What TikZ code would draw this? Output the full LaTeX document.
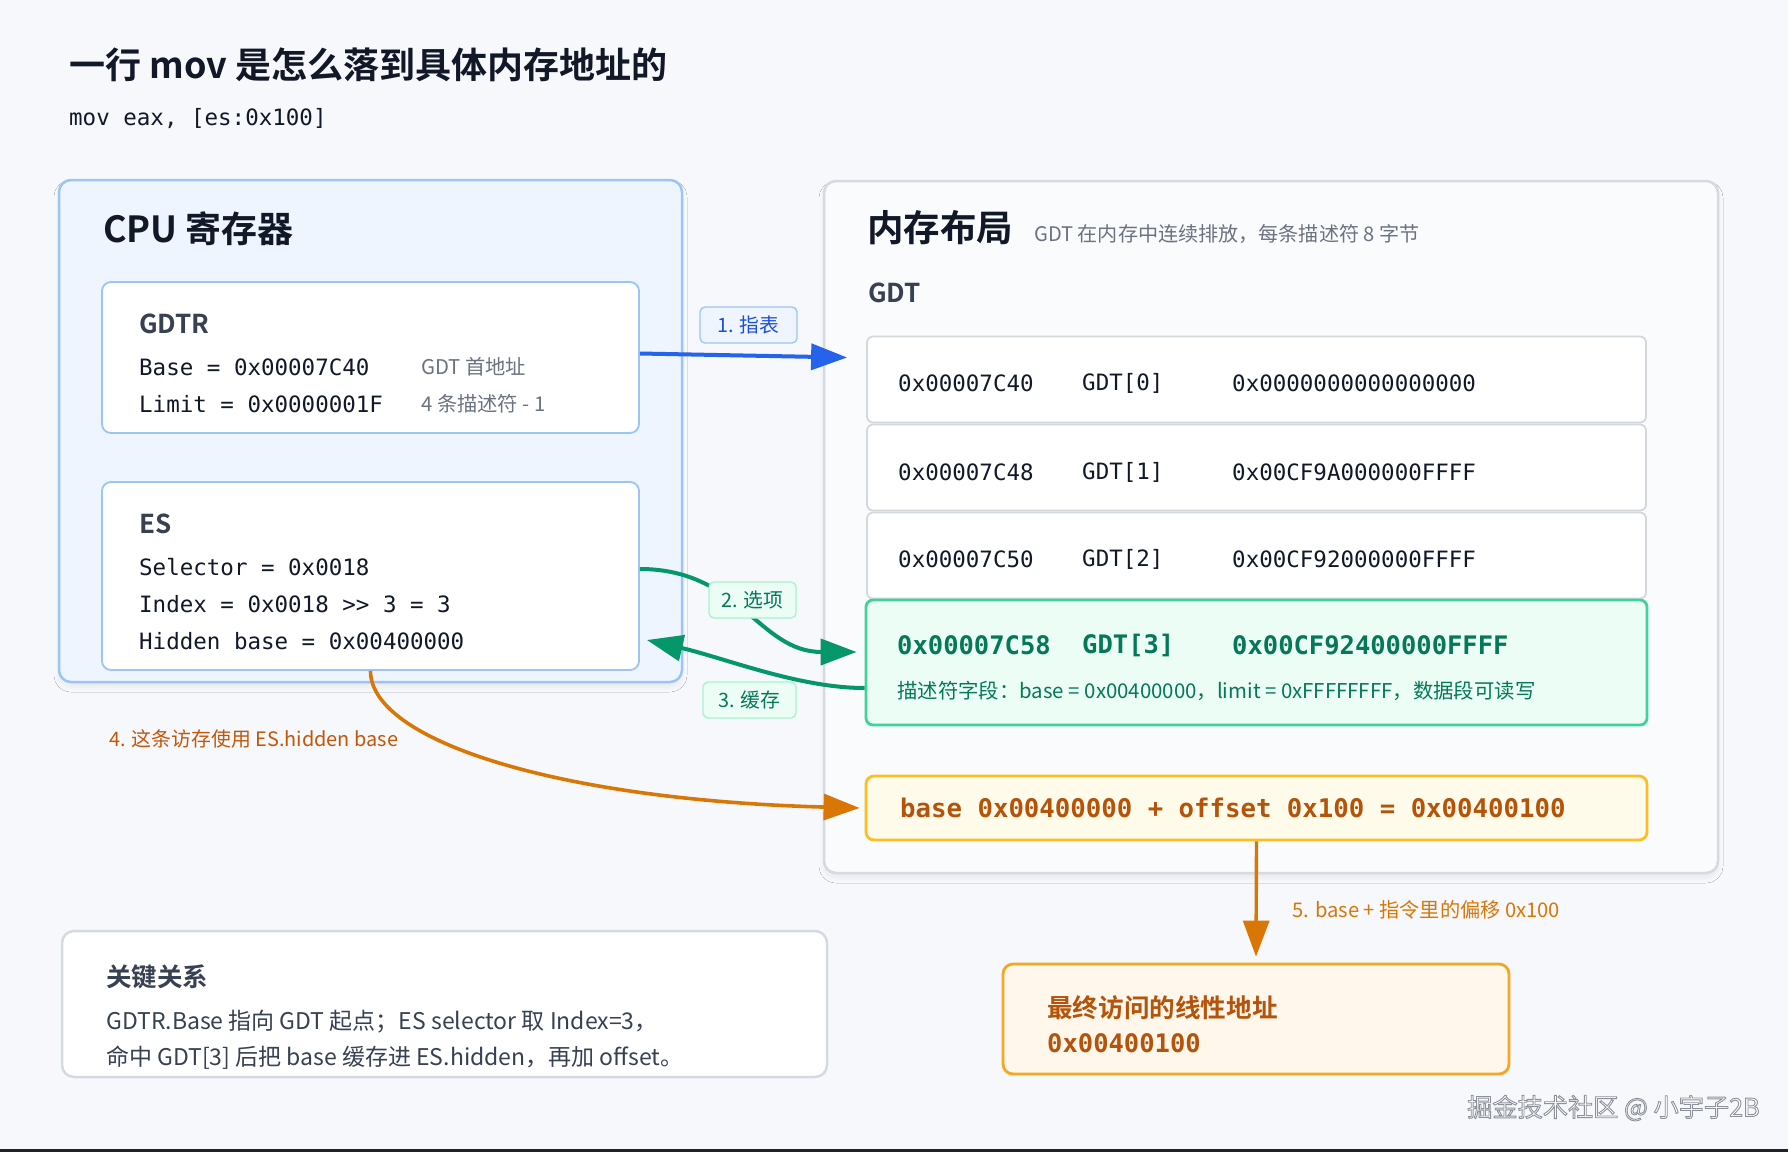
\documentclass[tikz,border=0pt]{standalone}
\usepackage{fontspec}
\setmainfont{Noto Sans CJK SC}[BoldFont={Noto Sans CJK SC Bold}]
\newfontfamily\monof{DejaVu Sans Mono}
\usetikzlibrary{arrows.meta,shadows.blur}
\newcommand\fsz[1]{\fontsize{#1pt}{#1pt}\selectfont}
\definecolor{bgc}{HTML}{F6F8FB}
\definecolor{ink}{HTML}{111827}
\definecolor{ink2}{HTML}{374151}
\definecolor{muted}{HTML}{6B7280}
\definecolor{cpufill}{HTML}{EEF5FF}
\definecolor{cpuline}{HTML}{9CC5F7}
\definecolor{memfill}{HTML}{FAFBFC}
\definecolor{memline}{HTML}{D5D9E0}
\definecolor{rowline}{HTML}{D3D7DE}
\definecolor{blueA}{HTML}{2563EB}
\definecolor{blueT}{HTML}{1D4ED8}
\definecolor{greenA}{HTML}{059669}
\definecolor{greenT}{HTML}{047857}
\definecolor{greenF}{HTML}{ECFDF5}
\definecolor{greenL}{HTML}{3FD39C}
\definecolor{greenLL}{HTML}{A7F3D0}
\definecolor{orA}{HTML}{D97706}
\definecolor{orT}{HTML}{B45309}
\definecolor{orF}{HTML}{FFFBEB}
\definecolor{orL}{HTML}{FBBF24}
\definecolor{finF}{HTML}{FFF7EB}
\definecolor{finL}{HTML}{F5A623}
\definecolor{lab4}{HTML}{C2570C}
\definecolor{wm}{HTML}{FFFFFF}
\definecolor{darkbar}{HTML}{1F2329}
\begin{document}
\begin{tikzpicture}[x=1pt,y=-1pt,
  txt/.style={inner sep=0pt, anchor=west},
  softshadow/.style={blur shadow={shadow xshift=0pt, shadow yshift=-5pt, shadow blur radius=5pt, shadow blur steps=8, shadow opacity=6}},
  cpubox/.style={draw=cpuline, fill=cpufill, line width=2.5pt, rounded corners=12pt, inner sep=0pt, softshadow},
  regbox/.style={draw=cpuline, fill=white, line width=1.8pt, rounded corners=9pt, inner sep=0pt},
  membox/.style={draw=memline, fill=memfill, line width=2.5pt, rounded corners=12pt, inner sep=0pt, softshadow},
  rowbox/.style={draw=rowline, fill=white, line width=1.8pt, rounded corners=6pt, inner sep=0pt, minimum width=779pt, minimum height=86pt},
  greenbox/.style={draw=greenL, fill=greenF, line width=2.8pt, rounded corners=7pt, inner sep=0pt},
  orbox/.style={draw=orL, fill=orF, line width=2.8pt, rounded corners=8pt, inner sep=0pt},
  finbox/.style={draw=finL, fill=finF, line width=2.8pt, rounded corners=10pt, inner sep=0pt},
  keybox/.style={draw=memline, fill=white, line width=2.5pt, rounded corners=12pt, inner sep=0pt},
  tagbox/.style={rounded corners=5pt, line width=1.3pt, inner sep=0pt, minimum height=36pt, font=\fsz{19.8}},
  mono/.style={txt, font=\monof\fsz{22.5}, text=ink},
  note/.style={txt, font=\fsz{20.3}, text=muted},
  arr/.style={line width=4pt, -{Triangle[length=36pt,width=26pt]}},
]
\useasboundingbox (0,0) rectangle (1788,1152);
\fill[bgc] (0,0) rectangle (1788,1152);
\fill[darkbar] (0,1149) rectangle (1788,1152);

% title
\node[txt, font=\bfseries\fsz{36}, text=ink] (title) at (69,65) {一行 mov 是怎么落到具体内存地址的};
\node[txt, font=\monof\fsz{22.5}, text=ink] (code) at (69,119) {mov eax, [es:0x100]};

% CPU side
\node[cpubox, minimum width=623pt, minimum height=502pt] (cpu) at (370.5,431) {};
\node[txt, font=\bfseries\fsz{36}, text=ink] (cputitle) at (103,229) {CPU 寄存器};
\node[regbox, minimum width=537pt, minimum height=151pt] (gdtr) at (370.5,357.5) {};
\node[txt, font=\bfseries\fsz{26}, text=ink2] (gdtrlab) at (139,324) {GDTR};
\node[mono] (gbase) at (139,367) {Base = 0x00007C40};
\node[mono] (glimit) at (139,404) {Limit = 0x0000001F};
\node[note] (gnote1) at (421,367) {GDT 首地址};
\node[note] (gnote2) at (421,404) {4 条描述符 - 1};

\node[regbox, minimum width=537pt, minimum height=188pt] (es) at (370.5,576) {};
\node[txt, font=\bfseries\fsz{26}, text=ink2] (eslab) at (139,524) {ES};
\node[mono] (esel) at (139,567) {Selector = 0x0018};
\node[mono] (eidx) at (139,604) {Index = 0x0018 >> 3 = 3};
\node[mono] (ehid) at (139,641) {Hidden base = 0x00400000};

% memory side
\node[membox, minimum width=894pt, minimum height=692pt] (mem) at (1271,527) {};
\node[inner sep=0pt, anchor=base west, font=\bfseries\fsz{36.5}, text=ink] (memtitle) at (867,241) {内存布局};
\node[inner sep=0pt, anchor=base west, font=\fsz{20.1}, text=muted] (memsub) at (1034,241) {GDT 在内存中连续排放，每条描述符 8 字节};
\node[txt, font=\bfseries\fsz{26}, text=ink2] (gdtlab) at (868,293) {GDT};

\node[rowbox] (r0) at (1256.5,379.5) {};
\node[rowbox] (r1) at (1256.5,467.5) {};
\node[rowbox] (r2) at (1256.5,555.5) {};
\node[mono] (r0a) at (898,383) {0x00007C40};
\node[mono] (r0b) at (1082,383) {GDT[0]};
\node[mono] (r0c) at (1232,383) {0x0000000000000000};
\node[mono] (r1a) at (898,472) {0x00007C48};
\node[mono] (r1b) at (1082,472) {GDT[1]};
\node[mono] (r1c) at (1232,472) {0x00CF9A000000FFFF};
\node[mono] (r2a) at (898,559) {0x00007C50};
\node[mono] (r2b) at (1082,559) {GDT[2]};
\node[mono] (r2c) at (1232,559) {0x00CF92000000FFFF};

\node[greenbox, minimum width=781pt, minimum height=125pt] (g3) at (1256.5,662.5) {};
\node[txt, font=\monof\bfseries\fsz{25.5}, text=greenT] (g3a) at (897,645) {0x00007C58};
\node[txt, font=\monof\bfseries\fsz{25.5}, text=greenT] (g3b) at (1082,645) {GDT[3]};
\node[txt, font=\monof\bfseries\fsz{25.5}, text=greenT] (g3c) at (1232,645) {0x00CF92400000FFFF};
\node[txt, font=\fsz{20.4}, text=greenT] (g3d) at (897,691) {描述符字段：base = 0x00400000，limit = 0xFFFFFFFF，数据段可读写};

\node[orbox, minimum width=781pt, minimum height=64pt] (obox) at (1256.5,808) {};
\node[txt, font=\monof\bfseries\fsz{25.7}, text=orT] (otext) at (900,808) {base 0x00400000 + offset 0x100 = 0x00400100};

% final & key boxes
\node[finbox, minimum width=506pt, minimum height=110pt] (fin) at (1256,1019) {};
\node[txt, font=\bfseries\fsz{25.6}, text=orT] (fin1) at (1047,1008) {最终访问的线性地址};
\node[txt, font=\monof\bfseries\fsz{25.5}, text=orT] (fin2) at (1047,1043) {0x00400100};

\node[keybox, minimum width=765pt, minimum height=146pt] (key) at (444.5,1004) {};
\node[txt, font=\bfseries\fsz{25.5}, text=ink2] (key0) at (106,977) {关键关系};
\node[txt, font=\fsz{23}, text=ink2] (key1) at (106,1022) {GDTR.Base 指向 GDT 起点；ES selector 取 Index=3，};
\node[txt, font=\fsz{23}, text=ink2] (key2) at (106,1058) {命中 GDT[3] 后把 base 缓存进 ES.hidden，再加 offset。};

% connectors
\coordinate (t1) at ([xshift=-19pt,yshift=22pt]r0.west);
\coordinate (t2) at ([xshift=-8pt,yshift=10.5pt]g3.west);
\coordinate (s3) at ([yshift=-25.5pt]g3.west);
\coordinate (t3) at ([xshift=7pt,yshift=-64pt]es.east);
\coordinate (t4) at ([xshift=-5pt]obox.west);
\coordinate (t5) at ([yshift=6pt]fin.north);

\draw[arr, blueA] ([yshift=4pt]gdtr.east) -- (t1);
\draw[arr, greenA] ([yshift=7pt]es.east) .. controls +(100,0) and +(-98,0) .. (t2);
\draw[arr, greenA] (s3) .. controls +(-66,0) and +(78,18) .. (t3);
\draw[arr, orA, line width=3.6pt] (es.south) .. controls +(0,70) and +(-301,-8) .. (t4);
\draw[arr, orA, line width=3.4pt] (obox.south) -- (t5);

% tags
\node[tagbox, draw=cpuline, fill=cpufill, text=blueT, minimum width=97pt] (tag1) at (748.5,325) {1. 指表};
\node[tagbox, draw=greenLL, fill=greenF, text=greenT, minimum width=87pt] (tag2) at (752.5,600) {2. 选项};
\node[tagbox, draw=greenLL, fill=greenF, text=greenT, minimum width=93pt] (tag3) at (749.5,700) {3. 缓存};
\node[txt, font=\fsz{19.9}, text=lab4] (lab4) at (109,739) {4. 这条访存使用 ES.hidden base};
\node[txt, font=\fsz{20.2}, text=orA] (lab5) at (1292,910) {5. base + 指令里的偏移 0x100};

\node[txt, font=\fsz{25.2}, text=wm] (wmark) at (1467,1108) {\special{pdf:literal direct 0.55 0.57 0.6 RG 2 Tr 0.9 w}掘金技术社区 @ 小宇子2B\special{pdf:literal direct 0 Tr}};
\end{tikzpicture}
\end{document}
